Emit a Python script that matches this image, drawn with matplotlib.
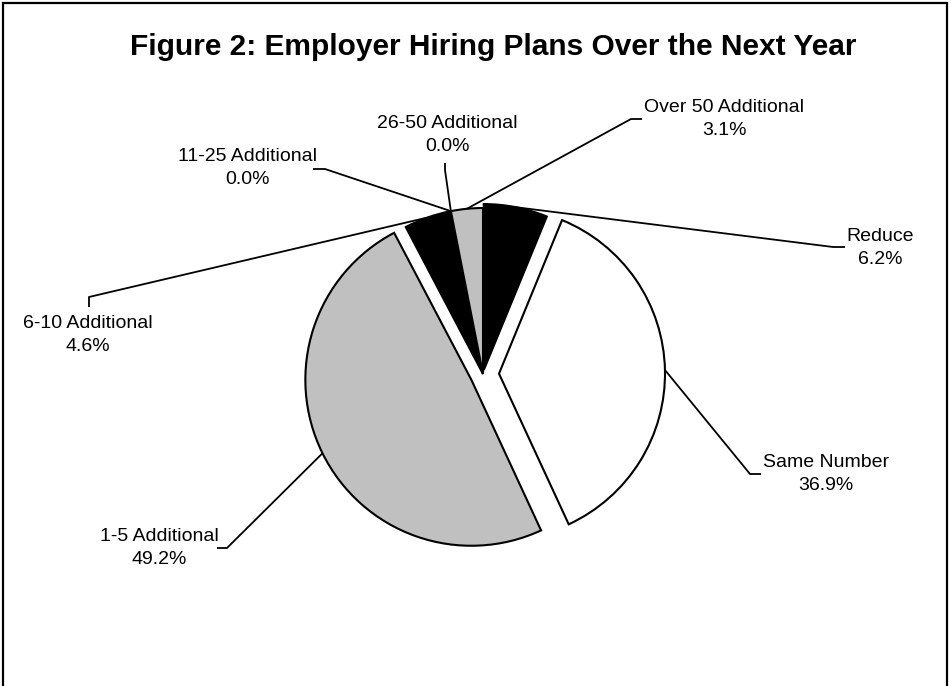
# Employer hiring plans - exploded pie with leader-line labels

import numpy as np
import matplotlib.pyplot as plt
from matplotlib.patches import Rectangle

plt.rcParams['font.family'] = ['Liberation Sans', 'DejaVu Sans']

# data
categories = ['Reduce', 'Same Number', '1-5 Additional', '6-10 Additional',
              '11-25 Additional', '26-50 Additional', 'Over 50 Additional']
shares = [6.2, 36.9, 49.2, 4.6, 0.0, 0.0, 3.1]

slice_colors = ['black', 'white', '#c0c0c0', 'black', 'white', '#c0c0c0', '#c0c0c0']
# explode offsets in pixels (pie radius is 166 px)
explode = [4, 16, 13, 0, 0, 0, 0]

W, H = 952, 686


def py(y):
    # pixel rows counted from the top
    return H - y


# label layout: (elbow, line end, text centre) in pixels
label_layout = [
    ((833, 247), (845, 247), (880, 248)),
    ((750, 474), (761, 474), (826, 474)),
    ((227, 548), (217, 548), (159, 548)),
    ((89, 297), (89, 307), (88, 335)),
    ((325, 169), (313, 169), (247, 168)),
    ((445, 170), (445, 163), (447, 135)),
    ((631, 119), (642, 119), (724, 119)),
]

fig = plt.figure(figsize=(W / 100, H / 100), dpi=100)
ax = fig.add_axes([0, 0, 1, 1])

wedges, _ = ax.pie(shares, explode=explode, colors=slice_colors,
                   startangle=90, counterclock=False,
                   center=(483, py(374)), radius=166, frame=True,
                   wedgeprops=dict(edgecolor='black', linewidth=1.5))
ax.set_xlim(0, W)
ax.set_ylim(0, H)
ax.set_aspect('equal')
ax.axis('off')

for w, name, share, (elbow, end, txt) in zip(wedges, categories, shares, label_layout):
    mid = np.deg2rad((w.theta1 + w.theta2) / 2)
    x0 = w.center[0] + w.r * np.cos(mid)
    y0 = w.center[1] + w.r * np.sin(mid)
    ax.plot([x0, elbow[0], end[0]], [y0, py(elbow[1]), py(end[1])],
            color='black', lw=1.3, solid_capstyle='butt')
    ax.text(txt[0], py(txt[1]), f'{name}\n{share:.1f}%', ha='center', va='center',
            fontsize=14, linespacing=1.45, color='black')

fig.text(493 / W, 1 - 47 / H, 'Figure 2: Employer Hiring Plans Over the Next Year',
         ha='center', va='center', fontsize=21.5, fontweight='bold')

# outer frame, open at the bottom edge
fig.add_artist(Rectangle((3 / W, -0.1), 944 / W, (H - 3) / H + 0.1,
                         transform=fig.transFigure, fill=False,
                         edgecolor='black', lw=1.6, clip_on=False))

fig.savefig('out.png', dpi=100)
